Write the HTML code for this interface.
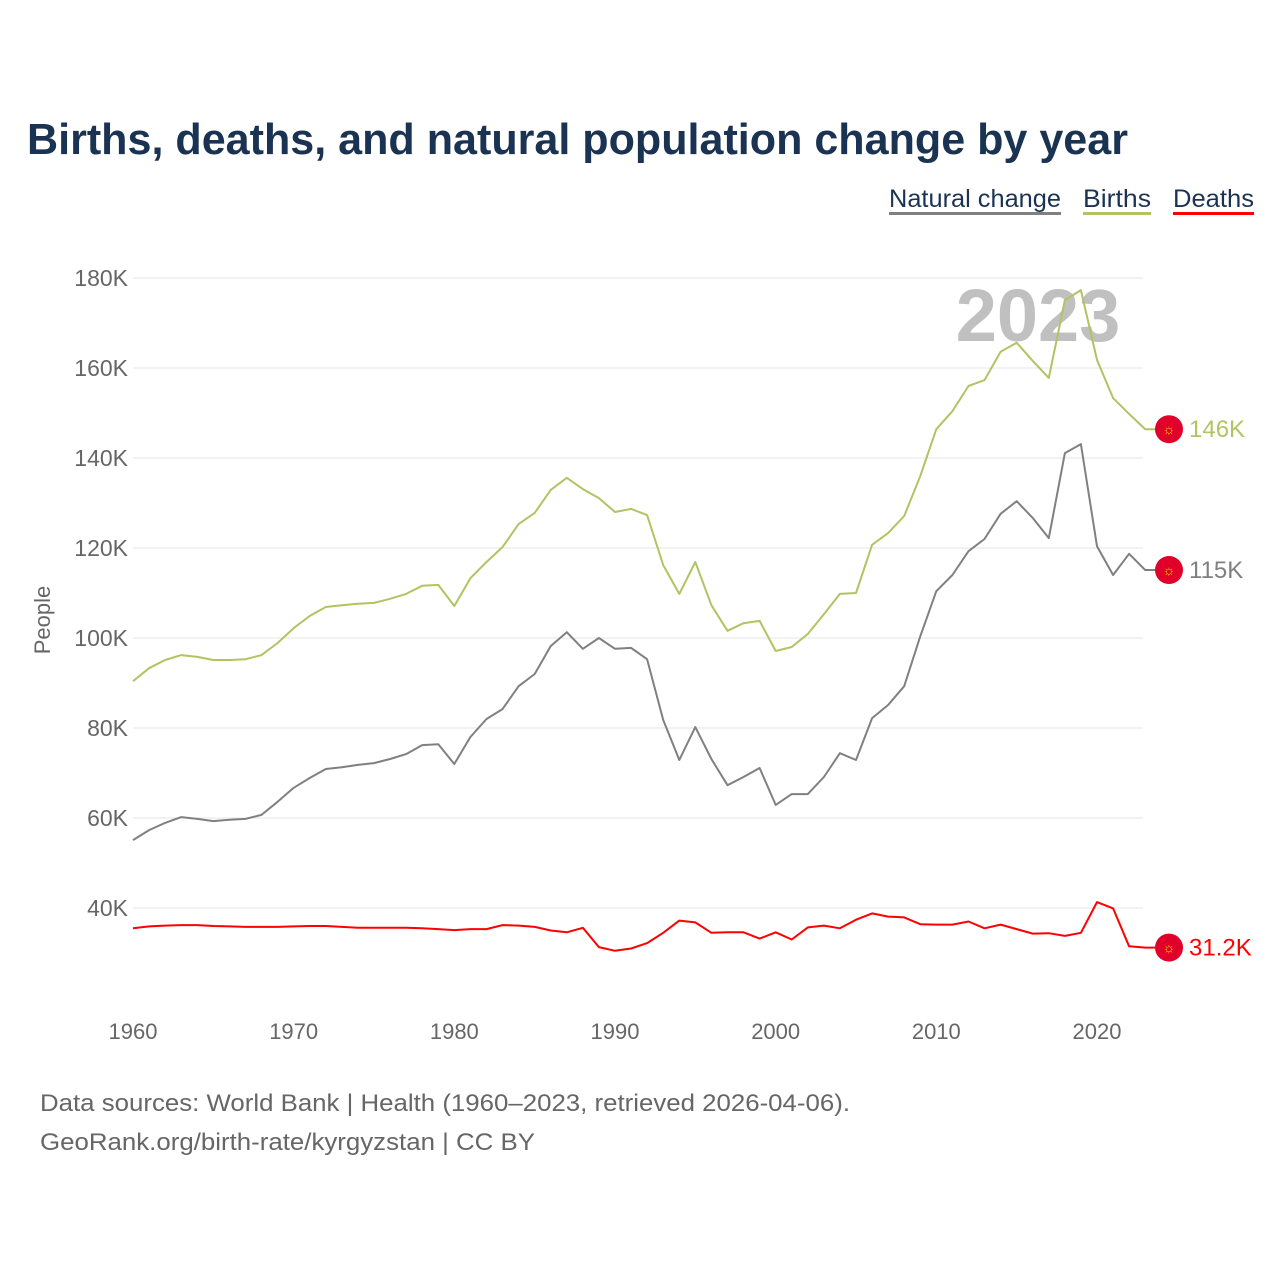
<!DOCTYPE html>
<html><head><meta charset="utf-8"><style>
body{margin:0;background:#fff;width:1280px;height:1280px;overflow:hidden;font-family:"Liberation Sans",sans-serif}
</style></head><body>
<svg width="1280" height="1280" viewBox="0 0 1280 1280" xmlns="http://www.w3.org/2000/svg">
<text x="27" y="154" font-size="44" font-weight="bold" fill="#1b3352" textLength="1101" lengthAdjust="spacingAndGlyphs">Births, deaths, and natural population change by year</text>
<g font-size="25">
<text x="889" y="207" fill="#1b3352" textLength="172" lengthAdjust="spacingAndGlyphs">Natural change</text>
<rect x="889" y="212" width="172" height="3" fill="#808080"/>
<text x="1083" y="207" fill="#1b3352" textLength="68" lengthAdjust="spacingAndGlyphs">Births</text>
<rect x="1083" y="212" width="68" height="3" fill="#b0c462"/>
<text x="1173" y="207" fill="#1b3352" textLength="81" lengthAdjust="spacingAndGlyphs">Deaths</text>
<rect x="1173" y="212" width="81" height="3" fill="#ff0000"/>
</g>
<g id="grid"></g>
<text x="1038" y="341" font-size="74" font-weight="bold" fill="#b5b5b5" fill-opacity="0.85" text-anchor="middle">2023</text>
<g id="lines"></g>
<text transform="translate(50,620) rotate(-90)" font-size="22" fill="#666" text-anchor="middle">People</text>
<text x="40" y="1111" font-size="24" fill="#666" textLength="810" lengthAdjust="spacingAndGlyphs">Data sources: World Bank | Health (1960–2023, retrieved 2026-04-06).</text>
<text x="40" y="1150" font-size="24" fill="#666" textLength="495" lengthAdjust="spacingAndGlyphs">GeoRank.org/birth-rate/kyrgyzstan | CC BY</text>
</svg>
<script>
const years = []; for (let y = 1960; y <= 2023; y++) years.push(y);
const births = [90.4,93.3,95.1,96.2,95.8,95.1,95.1,95.3,96.2,98.9,102.2,104.9,106.9,107.3,107.6,107.8,108.7,109.8,111.6,111.8,107.1,113.3,116.9,120.2,125.3,127.8,132.9,135.6,133.1,131.1,128.0,128.7,127.3,116.2,109.8,116.9,107.3,101.6,103.3,103.8,97.1,98.0,100.9,105.3,109.8,110.0,120.7,123.3,127.1,136.0,146.4,150.4,156.0,157.3,163.6,165.6,161.6,157.8,175.1,177.3,161.8,153.3,149.8,146.4];
const natural = [55.1,57.3,58.9,60.2,59.8,59.3,59.6,59.8,60.7,63.6,66.7,68.9,70.9,71.3,71.8,72.2,73.1,74.2,76.2,76.4,72.0,78.0,82.0,84.2,89.3,92.0,98.2,101.3,97.6,100.0,97.6,97.8,95.3,81.8,72.9,80.2,73.1,67.3,69.1,71.1,62.9,65.3,65.3,69.1,74.4,72.9,82.2,85.1,89.3,100.4,110.4,114.0,119.3,122.0,127.6,130.4,126.7,122.2,141.1,143.1,120.4,114.0,118.7,115.1];
const deaths = [35.5,35.9,36.1,36.2,36.2,36.0,35.9,35.8,35.8,35.8,35.9,36.0,36.0,35.8,35.6,35.6,35.6,35.6,35.5,35.3,35.1,35.3,35.3,36.2,36.1,35.8,35.0,34.6,35.6,31.3,30.5,31.0,32.2,34.5,37.2,36.8,34.5,34.6,34.6,33.2,34.6,33.0,35.7,36.1,35.5,37.4,38.8,38.1,37.9,36.4,36.3,36.3,37.0,35.5,36.3,35.3,34.3,34.4,33.8,34.5,41.3,39.9,31.5,31.2];
const yTicks = [40,60,80,100,120,140,160,180];
const xTicks = [1960,1970,1980,1990,2000,2010,2020];
const endLabels = ["146K","115K","31.2K"];
const NS = "http://www.w3.org/2000/svg";
const xs = yr => 133 + (yr - 1960) * (1097 - 133) / 60;
const ys = v => 278 + (180 - v) * 4.5;
const grid = document.getElementById('grid');
const lines = document.getElementById('lines');
function mk(tag, attrs, parent){const e=document.createElementNS(NS,tag);for(const k in attrs)e.setAttribute(k,attrs[k]);parent.appendChild(e);return e;}
yTicks.forEach(v=>{
  const l=mk('line',{x1:133,x2:1143,y1:ys(v),y2:ys(v),stroke:'#e6e6e6','stroke-width':1},grid);
  
  
  const t=mk('text',{x:128,y:ys(v)+8,'font-size':23,fill:'#666','text-anchor':'end'},grid);
  t.textContent=v+'K';
  
  
});
xTicks.forEach(yr=>{
  const t=mk('text',{x:xs(yr),y:1039,'font-size':22,fill:'#666','text-anchor':'middle'},grid);
  t.textContent=yr;
  
  
});
const series=[[births,'#b0c462','births'],[natural,'#808080','natural-change'],[deaths,'#ff0000','deaths']];
series.forEach(([vals,col,name],i)=>{
  const d=vals.map((v,j)=>(j?'L':'M')+xs(years[j]).toFixed(1)+' '+ys(v).toFixed(1)).join(' ')+' L1155 '+ys(vals[vals.length-1]).toFixed(1);
  const p=mk('path',{d:d,fill:'none',stroke:col,'stroke-width':2,'stroke-linejoin':'round'},lines);
  
  
  const cy=ys(vals[vals.length-1]);
  const c=mk('circle',{cx:1169,cy:cy,r:14,fill:'#e0002a'},lines);
  
  
  const s=mk('text',{x:1169,y:cy+5,'font-size':14,fill:'#ffd700','text-anchor':'middle'},lines);
  s.textContent='☼';
  
  
  const t=mk('text',{x:1189,y:cy+8,'font-size':24,fill:col},lines);
  t.textContent=endLabels[i];
  
  
});
</script>
</body></html>
